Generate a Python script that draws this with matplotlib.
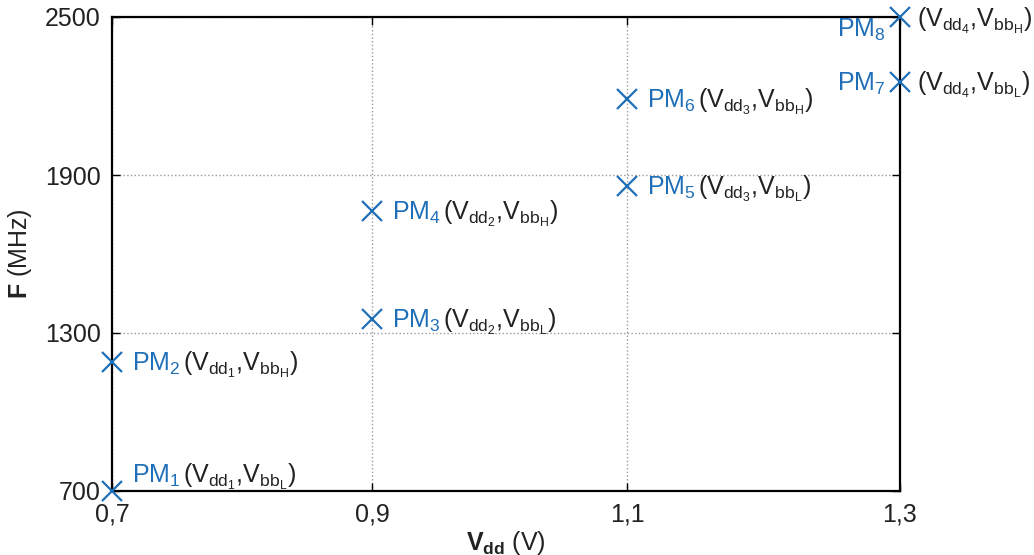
import matplotlib
matplotlib.use('Agg')
import numpy as np
import matplotlib.pyplot as plt

plt.rcParams['font.family'] = ['Liberation Sans', 'DejaVu Sans']
plt.rcParams['mathtext.fontset'] = 'custom'
plt.rcParams['mathtext.rm'] = 'Liberation Sans'
plt.rcParams['mathtext.it'] = 'Liberation Sans'
plt.rcParams['mathtext.bf'] = 'Liberation Sans:bold'

# operating points
vdd = [0.7, 0.7, 0.9, 0.9, 1.1, 1.1, 1.3, 1.3]
freq = [700, 1190, 1355, 1765, 1858, 2190, 2255, 2500]
vdd_idx = [1, 1, 2, 2, 3, 3, 4, 4]
vbb = ['L', 'H', 'L', 'H', 'L', 'H', 'L', 'H']

xticks = [0.7, 0.9, 1.1, 1.3]
yticks = [700, 1300, 1900, 2500]

blue = '#1f6fb8'
dark = '#222222'

# the original x axis is slightly uneven between ticks
xk = [0.7, 0.9, 1.1, 1.3]
xp = [0, 260, 515, 788]
def fwd(x):
    return np.interp(x, xk, xp)
def inv(x):
    return np.interp(x, xp, xk)

fig = plt.figure(figsize=(10.34, 5.55), dpi=100)
ax = fig.add_axes([112/1034, 1-491/555, (900-112)/1034, (491-17)/555])
ax.set_xscale('function', functions=(fwd, inv))

ax.plot(vdd, freq, linestyle='none', marker='x', markersize=15, markeredgewidth=1.6,
        color=blue, clip_on=False, zorder=5)

ax.set_xlim(0.7, 1.3)
ax.set_ylim(700, 2500)
ax.set_xticks(xticks)
ax.set_xticklabels([('%.1f' % v).replace('.', ',') for v in xticks])
ax.set_xticks([], minor=True)
ax.set_yticks(yticks)
ax.set_yticklabels([str(v) for v in yticks])
ax.tick_params(direction='in', length=6, width=1, top=True, right=True,
               labelsize=18, labelcolor=dark, pad=8)
ax.grid(True, linestyle=':', color='#999999', linewidth=1)
for s in ax.spines.values():
    s.set_linewidth(1.6)
    s.set_color('black')

ax.set_xlabel(r'$\mathbf{V}_{\mathbf{dd}}$ (V)', fontsize=18, color=dark, labelpad=2)
ax.set_ylabel(r'$\mathbf{F}$ (MHz)', fontsize=18, color=dark, labelpad=8)

fig.canvas.draw()
r = fig.canvas.get_renderer()
for i in range(len(vdd)):
    pm = 'PM$_{%d}$' % (i + 1)
    par = r'(V$_{dd_{%d}}$,V$_{bb_{%s}}$)' % (vdd_idx[i], vbb[i])
    xy = (vdd[i], freq[i])
    if vdd[i] == 1.3:
        # PM label sits left of the marker on the right edge
        dy = -20 if vbb[i] == 'H' else -9
        ax.annotate(pm, xy, xytext=(-14, dy), textcoords='offset pixels', ha='right',
                    va='baseline', fontsize=18, color=blue, annotation_clip=False)
        ax.annotate(par, xy, xytext=(17, -9 if vbb[i] == 'L' else -10),
                    textcoords='offset pixels', ha='left', va='baseline',
                    fontsize=18, color=dark, annotation_clip=False)
    else:
        dy = 8 if i == 0 else -9
        t1 = ax.annotate(pm, xy, xytext=(20, dy), textcoords='offset pixels', ha='left',
                         va='baseline', fontsize=18, color=blue, annotation_clip=False)
        w = t1.get_window_extent(r).width
        ax.annotate(par, xy, xytext=(20 + w + 2, dy), textcoords='offset pixels',
                    ha='left', va='baseline', fontsize=18, color=dark,
                    annotation_clip=False)

fig.savefig('out.png', dpi=100)
